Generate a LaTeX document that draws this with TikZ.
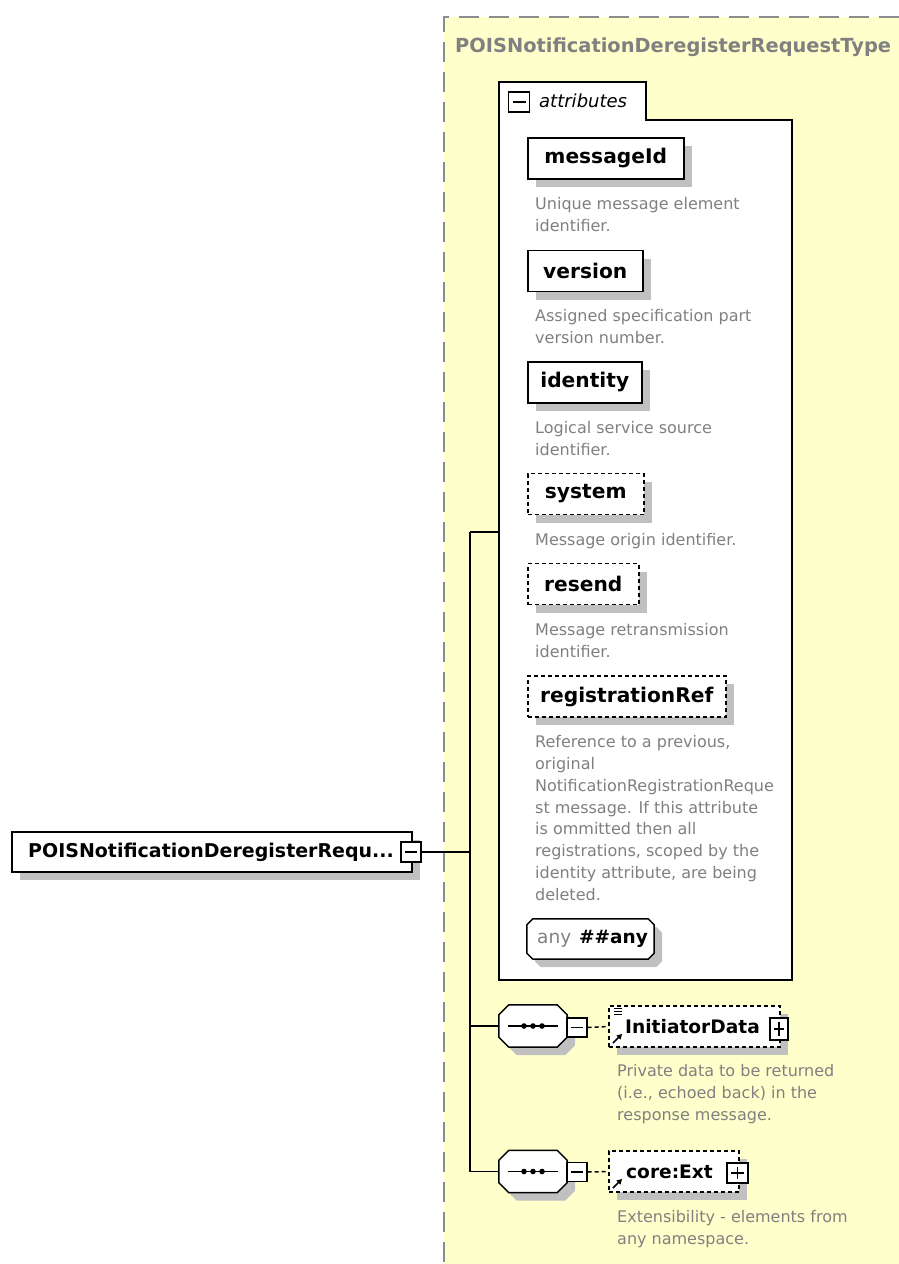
\documentclass[tikz,border=0pt]{standalone}
\usepackage{fontspec}
\setmainfont{DejaVu Sans}
\usetikzlibrary{shadows,arrows.meta}

\definecolor{paneyellow}{RGB}{255,255,204}
\definecolor{shadowgray}{RGB}{192,192,192}
\definecolor{notegray}{RGB}{128,128,128}
\definecolor{framegray}{RGB}{140,140,140}

\newcommand\titlefont{\bfseries\fontsize{19.4}{22}\selectfont}
\newcommand\lblfont{\bfseries\fontsize{18.6}{22}\selectfont}
\newcommand\attrfont{\bfseries\fontsize{20.2}{22}\selectfont}
\newcommand\notefont{\fontsize{16}{21.9}\selectfont}

% octagon drawn round the corners of a node, with chamfer #2
\newcommand\octpath[2]{([xshift=#2]#1.north west) -- ([xshift=-#2]#1.north east)
  -- ([yshift=-#2]#1.north east) -- ([yshift=#2]#1.south east)
  -- ([xshift=-#2]#1.south east) -- ([xshift=#2]#1.south west)
  -- ([yshift=#2]#1.south west) -- ([yshift=-#2]#1.north west) -- cycle}

\tikzset{
  boxshadow/.style={drop shadow={shadow xshift=8pt,shadow yshift=-8pt,fill=shadowgray,opacity=1}},
  attrbox/.style={draw=black, line width=1.5pt, fill=white, boxshadow, font=\attrfont,
    minimum height=41pt, inner sep=0pt, anchor=west},
  optbox/.style={attrbox, dash pattern=on 4pt off 3pt},
  elembox/.style={draw=black, line width=1.5pt, fill=white, boxshadow,
    dash pattern=on 4pt off 3pt, inner sep=0pt},
  ghost/.style={inner sep=0pt},
  note/.style={font=\notefont, text=notegray, align=left, anchor=north west, inner sep=0pt},
  lbl/.style={font=\lblfont, inner sep=0pt, anchor=west},
  wire/.style={line width=1.5pt, black},
  toggle/.style={draw=black, line width=1.2pt, fill=white, minimum width=20pt, minimum height=20pt,
    inner sep=0pt},
  minusbox/.style={toggle, path picture={\draw[line width=1.2pt]
    ([xshift=4pt]path picture bounding box.west) -- ([xshift=-4pt]path picture bounding box.east);}},
  plusbox/.style={toggle, path picture={\draw[line width=1.2pt]
    ([xshift=4pt]path picture bounding box.west) -- ([xshift=-4pt]path picture bounding box.east);
    \draw[line width=1.2pt]
    ([yshift=-4pt]path picture bounding box.north) -- ([yshift=4pt]path picture bounding box.south);}},
}

\begin{document}
\begin{tikzpicture}[x=1pt,y=-1pt]
\useasboundingbox (0,0) rectangle (899,1264);
\fill[white] (0,0) rectangle (899,1264);

% complex type pane
\fill[paneyellow] (444,17) rectangle (899,1264);
\draw[framegray, line width=1.5pt, dash pattern=on 20pt off 10pt] (899,17) -- (444,17) -- (444,1264);
\node[font=\titlefont, text=notegray, anchor=west, inner sep=0pt] (title) at (455,47) {POISNotificationDeregisterRequestType};

% attributes group with its tab
\draw[wire, fill=white] (499,82) -- (646,82) -- (646,120) -- (792,120) -- (792,980) -- (499,980) -- cycle;
\node[ghost, minimum width=293pt, minimum height=898pt] (attrs) at (645.5,531) {};
\node[minusbox, minimum width=21pt] (attrtoggle) at (519,102) {};
\node[font=\itshape\fontsize{18}{22}\selectfont, anchor=west, inner sep=0pt] (attrtitle) at (539,101) {attributes};

% attributes
\node[attrbox, minimum width=156pt] (messageId) at (527,158.5) {messageId};
\node[note] (dMessageId) at (535,197) {Unique message element\\identifier.};
\node[attrbox, minimum width=115pt] (version) at (527,271) {version};
\node[note] (dVersion) at (535,309) {Assigned specification part\\version number.};
\node[attrbox, minimum width=114pt] (identity) at (527,382.5) {identity};
\node[note] (dIdentity) at (535,421) {Logical service source\\identifier.};
\node[optbox, minimum width=116pt] (system) at (527,494) {system};
\node[note] (dSystem) at (535,533) {Message origin identifier.};
\node[optbox, minimum width=111pt] (resend) at (527,584) {resend};
\node[note] (dResend) at (535,623) {Message retransmission\\identifier.};
\node[optbox, minimum width=198pt] (registrationRef) at (527,696.5) {registrationRef};
\node[note] (dRegistrationRef) at (535,735) {Reference to a previous,\\original\\NotificationRegistrationReque\\st message. If this attribute\\is ommitted then all\\registrations, scoped by the\\identity attribute, are being\\deleted.};

% any attribute wildcard
\node[ghost, minimum width=127pt, minimum height=40pt] (anyattr) at (590.5,939) {};
\fill[shadowgray, transform canvas={xshift=8pt,yshift=-8pt}] \octpath{anyattr}{6pt};
\draw[line width=1.5pt, fill=white] \octpath{anyattr}{6pt};
\node[anchor=west, inner sep=0pt, font=\fontsize{18.5}{22}\selectfont] (anyword) at (537,939)
  {\textcolor{notegray}{any}\hspace{8pt}{\bfseries\#\#any}};

% root element
\node[attrbox, anchor=center, minimum width=400pt, minimum height=40pt] (root) at (212,852) {};
\node[font=\bfseries\fontsize{19}{22}\selectfont, inner sep=0pt, anchor=west] (rootlabel) at (28,852) {POISNotificationDeregisterRequ...};
\node[minusbox] (roottoggle) at (411,852) {};

% trunk of the content model
\coordinate (jroot) at (470,852);
\coordinate (jtop) at (470,532);
\draw[wire] (roottoggle.east) -- (jroot);

% sequence compositors
\node[ghost, minimum width=68pt, minimum height=42pt] (seqA) at (533,1026) {};
\node[ghost, minimum width=68pt, minimum height=42pt] (seqB) at (533,1171.5) {};

\draw[wire] (jtop) -- (attrs.west |- jtop);
\draw[wire] (jtop) -- (470,1171.5) -- (seqB.west);
\draw[wire] (470,1026) -- (seqA.west);

\foreach \s in {seqA,seqB}{
  \fill[shadowgray, transform canvas={xshift=8pt,yshift=-8pt}] \octpath{\s}{10pt};
  \draw[line width=1.5pt, fill=white] \octpath{\s}{10pt};
  \draw[line width=1.5pt] ([xshift=9pt]\s.west) -- ([xshift=-9pt]\s.east);
  \foreach \dx in {-9,0,9}
    \fill ([xshift=\dx pt]\s.center) circle (2.8pt);
}

\node[minusbox, minimum height=19pt] (togA) at (577,1027.5) {};
\node[minusbox, minimum height=19pt] (togB) at (577,1172) {};

% InitiatorData
\node[elembox, minimum width=171pt, minimum height=41pt] (initiator) at (694.5,1026.5) {};
\node[lbl] (initiatorLabel) at (625,1027) {InitiatorData};
\node[plusbox, minimum width=18pt, minimum height=22pt] (initiatorToggle) at (779,1029) {};
\draw[wire, dash pattern=on 4pt off 3pt] (togA.east) -- (initiator.west);
\foreach \yy in {1008,1011,1014} \draw[line width=1pt] (614,\yy) -- (622,\yy);
\draw[line width=1.5pt, -{Triangle[length=5pt,width=5.5pt]}] (613,1043) -- (622,1034);
\node[note] (dInitiator) at (617,1064) {Private data to be returned\\(i.e., echoed back) in the\\response message.};

% core:Ext
\node[elembox, minimum width=130pt, minimum height=41pt] (ext) at (674,1171.5) {};
\node[lbl] (extLabel) at (626,1172) {core:Ext};
\node[plusbox, minimum width=21pt, minimum height=20pt] (extToggle) at (737.5,1173) {};
\draw[wire, dash pattern=on 4pt off 3pt] (togB.east) -- (ext.west);
\draw[line width=1.5pt, -{Triangle[length=5pt,width=5.5pt]}] (613,1188) -- (622,1179);
\node[note] (dExt) at (617,1210) {Extensibility - elements from\\any namespace.};
\end{tikzpicture}
\end{document}
